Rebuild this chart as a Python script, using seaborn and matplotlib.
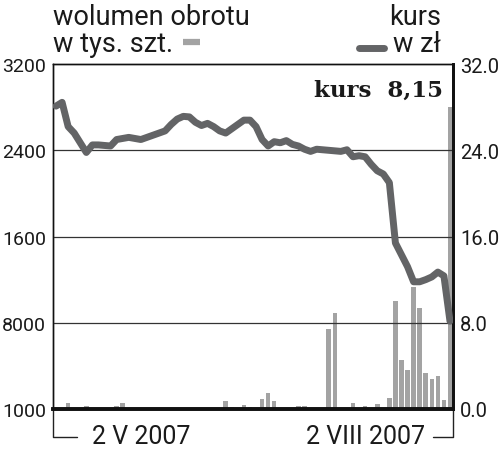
import matplotlib
matplotlib.use('Agg')
import matplotlib.pyplot as plt
import seaborn as sns
import pandas as pd
from matplotlib.lines import Line2D

# kurs (zl) per session
kurs = [28.1, 28.45, 26.2, 25.6, 24.7, 23.8, 24.5, 24.5, 24.45, 24.4,
        25.0, 25.1, 25.2, 25.1, 25.0, 25.2, 25.4, 25.6, 25.8, 26.4,
        26.9, 27.15, 27.1, 26.6, 26.3, 26.5, 26.2, 25.8, 25.6, 26.0,
        26.4, 26.8, 26.8, 26.2, 25.0, 24.4, 24.8, 24.7, 24.9, 24.55,
        24.4, 24.1, 23.9, 24.1, 24.05, 24.0, 23.95, 23.9, 24.05, 23.4,
        23.5, 23.4, 22.7, 22.1, 21.8, 21.0, 15.4, 14.3, 13.2, 11.8,
        11.8, 12.0, 12.25, 12.7, 12.35, 8.15]

# volume (tys. szt.), same sessions
wolumen = [0, 0, 56, 8, 8, 25, 0, 5, 0, 0,
           32, 56, 0, 0, 0, 0, 0, 0, 0, 0,
           0, 0, 5, 0, 0, 0, 0, 0, 75, 18,
           0, 40, 22, 12, 90, 150, 78, 0, 0, 0,
           28, 28, 0, 0, 0, 740, 895, 8, 0, 53,
           0, 30, 0, 45, 0, 100, 1000, 455, 360, 1130,
           935, 335, 280, 305, 82, 2800]

date_pos = [14, 51]
date_labels = ['2 V 2007', '2 VIII 2007']

vol_ticks = [0, 800, 1600, 2400, 3200]
vol_labels = ['1000', '8000', '1600', '2400', '3200']
kurs_ticks = [0, 8, 16, 24, 32]
kurs_labels = ['0.0', '8.0', '16.0', '24.0', '32.0']

df = pd.DataFrame({'sesja': range(len(kurs)), 'kurs': kurs, 'wolumen': wolumen})

sns.set_style('white')
plt.rcParams['font.family'] = ['Roboto', 'DejaVu Sans']

BAR = '#a3a3a3'
LINE = '#636466'

fig = plt.figure(figsize=(5.0, 4.52), dpi=100)
ax = fig.add_axes([0.106, 0.093, 0.8, 0.763])

sns.barplot(data=df, x='sesja', y='wolumen', color=BAR, width=0.75,
            saturation=1, edgecolor='none', linewidth=0, ax=ax)
ax.set_ylim(0, 3200)
ax.set_xlim(-0.5, len(kurs) - 0.5)

ax2 = ax.twinx()
ax2.set_ylim(0, 32)
for v in [8, 16, 24]:
    ax2.axhline(v, color='#333333', lw=0.9, zorder=1)
sns.lineplot(data=df, x='sesja', y='kurs', color=LINE, lw=5.0, ax=ax2,
             solid_joinstyle='round', zorder=3)

ax.set_yticks(vol_ticks)
ax.set_yticklabels(vol_labels)
ax2.set_yticks(kurs_ticks)
ax2.set_yticklabels(kurs_labels)
ax.set_xticks(date_pos)
ax.set_xticklabels(date_labels, fontsize=18, color='#1a1a1a')
ax.tick_params(axis='x', length=0, pad=11)
ax.tick_params(axis='y', length=0, pad=5, labelsize=14, labelcolor='#1a1a1a')
ax2.tick_params(axis='y', length=0, pad=5, labelsize=14.5, labelcolor='#1a1a1a')
ax.set_xlabel('')
ax.set_ylabel('')
ax2.set_xlabel('')
ax2.set_ylabel('')

for a in (ax, ax2):
    for s in a.spines.values():
        s.set_color('#111111')
    a.spines['top'].set_linewidth(1.0)
    a.spines['left'].set_linewidth(1.0)
    a.spines['right'].set_linewidth(2.0)
    a.spines['bottom'].set_linewidth(2.6)

# bracket under the axis
tr = ax.transAxes
ax.add_line(Line2D([0, 0, 0.06], [0, -0.08, -0.08], transform=tr,
                   color='#222222', lw=1.0, clip_on=False))
ax.add_line(Line2D([0.95, 1, 1], [-0.08, -0.08, 0], transform=tr,
                   color='#222222', lw=1.0, clip_on=False))

ax2.text(0.975, 0.925, 'kurs  8,15', transform=ax2.transAxes, ha='right',
         va='center', fontsize=16.5, fontweight='bold', family='DejaVu Serif',
         color='#1a1a1a')

# headers / legend keys
fig.text(0.106, 0.945, 'wolumen obrotu', fontsize=19.5, color='#1a1a1a')
fig.text(0.106, 0.885, 'w tys. szt.', fontsize=19.5, color='#1a1a1a')
fig.add_artist(Line2D([0.365, 0.400], [0.905, 0.905], color=BAR, lw=4.5,
                      solid_capstyle='butt'))
fig.text(0.882, 0.945, 'kurs', fontsize=19.5, color='#1a1a1a', ha='right')
fig.text(0.882, 0.885, 'w zł', fontsize=19.5, color='#1a1a1a', ha='right')
fig.add_artist(Line2D([0.718, 0.768], [0.892, 0.892], color=LINE, lw=5,
                      solid_capstyle='round'))

fig.savefig('out.png', dpi=100)
plt.close(fig)
